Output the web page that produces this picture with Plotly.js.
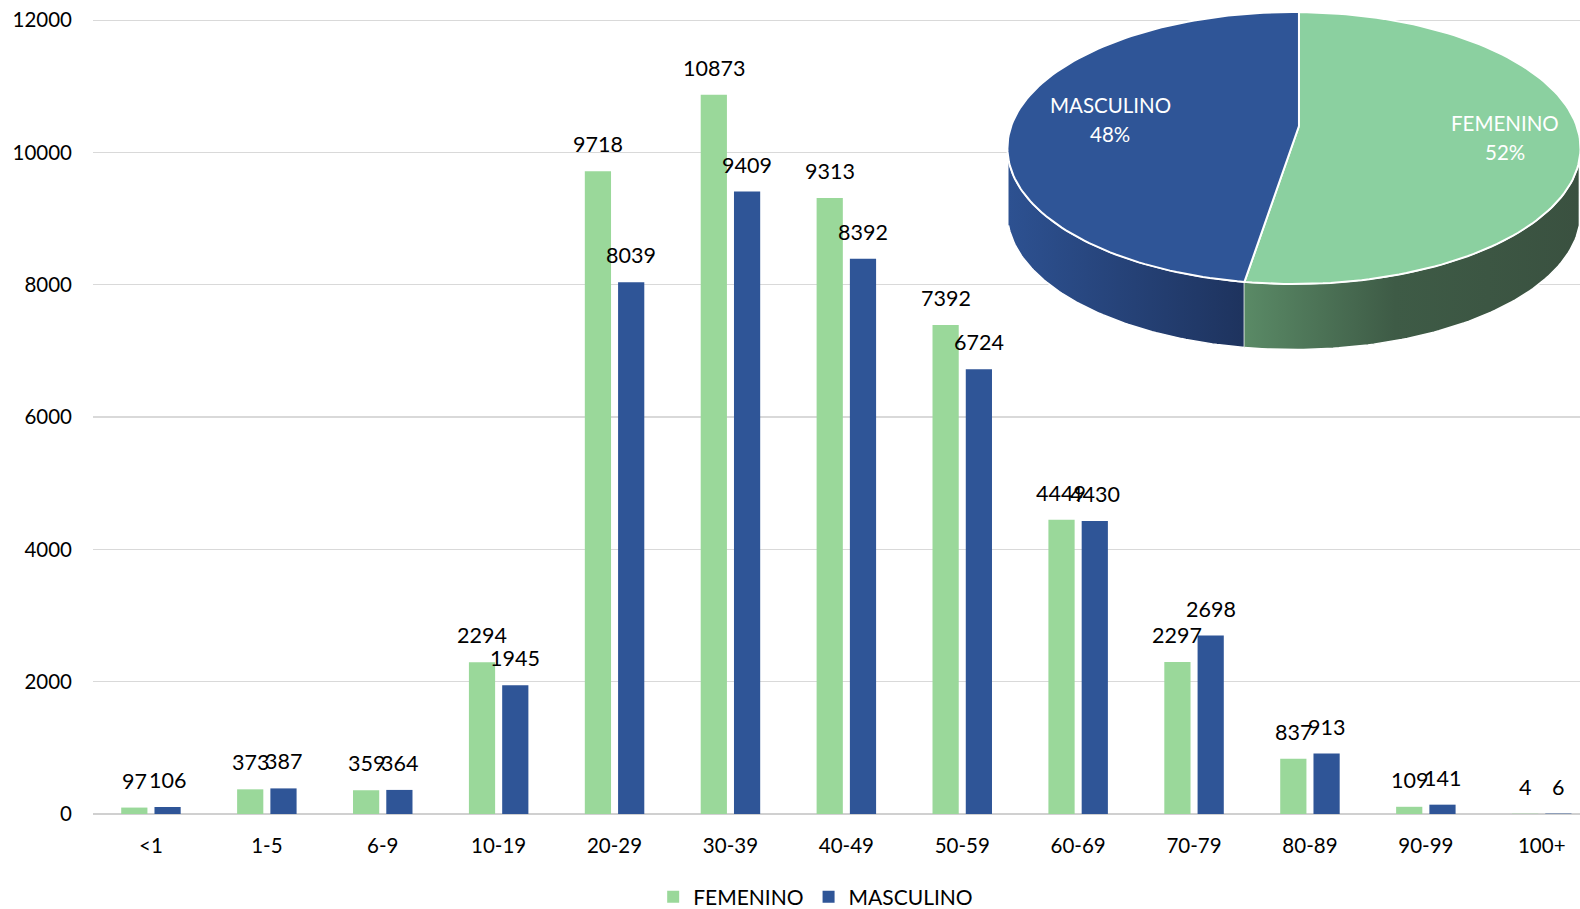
<!DOCTYPE html>
<html>
<head>
<meta charset="utf-8">
<script src="https://cdn.plot.ly/plotly-3.0.1.min.js"></script>
<style>html,body{margin:0;padding:0;background:#fff;}#chart{width:1580px;height:909px;}</style>
</head>
<body>
<div id="chart"></div>
<script>
const categories = ['<1','1-5','6-9','10-19','20-29','30-39','40-49','50-59','60-69','70-79','80-89','90-99','100+'];
const femenino  = [97,373,359,2294,9718,10873,9313,7392,4449,2297,837,109,4];
const masculino = [106,387,364,1945,8039,9409,8392,6724,4430,2698,913,141,6];
const seriesNames = ['FEMENINO','MASCULINO'];
const yTicks = [0,2000,4000,6000,8000,10000,12000];

const FONT = 'Lato, "Open Sans", sans-serif';
const barColors = ['#9ad89a', '#2f5597'];

const traces = [
  {type:'bar', name:seriesNames[0], x:categories, y:femenino, marker:{color:barColors[0]}, hoverinfo:'none'},
  {type:'bar', name:seriesNames[1], x:categories, y:masculino, marker:{color:barColors[1]}, hoverinfo:'none'}
];

// value labels
const annotations = [];
[femenino, masculino].forEach((arr, si) => {
  arr.forEach((v, i) => {
    annotations.push({x:categories[i], y:v, xref:'x', yref:'y', text:String(v), showarrow:false,
      xshift: si === 0 ? -16.7 : 16.7, yshift: 27, font:{family:FONT, size:21.5, color:'#000'}});
  });
});

// 3D-like pie built from series totals
const totF = femenino.reduce((a,b)=>a+b,0);
const totM = masculino.reduce((a,b)=>a+b,0);
const fracF = totF/(totF+totM);
const cx = 1294, cy = 148, rx = 286.5, ry = 136, depth = 65.5, apexY = 126, startDeg = 1;
const apexX = cx + rx*Math.sin(startDeg*Math.PI/180);
function ell(t0, t1, n, dy) {
  const xs = [], ys = [];
  for (let k = 0; k <= n; k++) {
    const t = (t0 + (t1 - t0) * k / n) * Math.PI / 180;
    xs.push(cx + rx * Math.sin(t));
    ys.push(cy - ry * Math.cos(t) + (dy || 0));
  }
  return [xs, ys];
}
const splitDeg = startDeg + fracF * 360;
function side(t0, t1) {
  const a = ell(t0, t1, 80, 0), b = ell(t1, t0, 80, depth);
  return [a[0].concat(b[0]), a[1].concat(b[1])];
}
const sideM = side(265, splitDeg);
const sideF = side(splitDeg, 95);
traces.push({type:'scatter', mode:'lines', x:sideM[0], y:sideM[1], xaxis:'x2', yaxis:'y2', fill:'toself',
  fillcolor:'#263f70', fillgradient:{type:'horizontal', colorscale:[[0,'#2d5191'],[1,'#1e335e']]},
  line:{color:'white', width:1.5}, showlegend:false, hoverinfo:'skip'});
traces.push({type:'scatter', mode:'lines', x:sideF[0], y:sideF[1], xaxis:'x2', yaxis:'y2', fill:'toself',
  fillcolor:'#405e48', fillgradient:{type:'horizontal', colorscale:[[0,'#5a8a66'],[0.45,'#3e5b46'],[1,'#3a5140']]},
  line:{color:'white', width:1.5}, showlegend:false, hoverinfo:'skip'});
const topF = ell(startDeg, splitDeg, 120, 0);
const topM = ell(splitDeg, 360 + startDeg, 120, 0);
traces.push({type:'scatter', mode:'lines', x:[apexX].concat(topF[0], [apexX]), y:[apexY].concat(topF[1], [apexY]),
  xaxis:'x2', yaxis:'y2', fill:'toself', fillcolor:'#8bd0a0', line:{color:'white', width:2}, showlegend:false, hoverinfo:'skip'});
traces.push({type:'scatter', mode:'lines', x:[apexX].concat(topM[0], [apexX]), y:[apexY].concat(topM[1], [apexY]),
  xaxis:'x2', yaxis:'y2', fill:'toself', fillcolor:'#2f5597', line:{color:'white', width:2}, showlegend:false, hoverinfo:'skip'});

const pctF = Math.round(fracF*100), pctM = 100 - pctF;
const pieFont = {family:FONT, size:20.5, color:'#fff'};
annotations.push({x:1110.5, y:105, xref:'x2', yref:'y2', text:seriesNames[1], showarrow:false, font:pieFont});
annotations.push({x:1110.5, y:134, xref:'x2', yref:'y2', text:pctM+'%', showarrow:false, font:pieFont});
annotations.push({x:1505.5, y:123, xref:'x2', yref:'y2', text:seriesNames[0], showarrow:false, font:pieFont});
annotations.push({x:1505.5, y:152, xref:'x2', yref:'y2', text:pctF+'%', showarrow:false, font:pieFont});

const L = 93.2, B = 95, PH = 909 - B;
const layout = {
  width:1580, height:909,
  margin:{l:L, r:0, t:0, b:B, autoexpand:false},
  paper_bgcolor:'#fff', plot_bgcolor:'rgba(0,0,0,0)',
  barmode:'group', bargap:0.426, bargroupgap:0.212,
  font:{family:FONT, size:20, color:'#000'},
  xaxis:{type:'category', range:[-0.5, 12.33], showgrid:false, zeroline:false, showline:false,
    ticks:'', ticklabelstandoff:17, tickfont:{family:FONT, size:20.5, color:'#000'}, fixedrange:true},
  yaxis:{range:[0, 12000*PH/(PH-20.2)], tickvals:yTicks, ticktext:yTicks.map(String), showgrid:true,
    gridcolor:'#d9d9d9', gridwidth:1.3, zeroline:true, zerolinecolor:'#d0d0d0', zerolinewidth:1.6,
    ticks:'', ticklabelstandoff:20, tickfont:{family:FONT, size:20.5, color:'#000'}, fixedrange:true},
  xaxis2:{domain:[(990-L)/(1580-L), 1], range:[990, 1580], visible:false, anchor:'y2', fixedrange:true},
  yaxis2:{domain:[(PH-360)/PH, 1], range:[360, 0], visible:false, anchor:'x2', fixedrange:true},
  legend:{orientation:'h', x:0.486, xanchor:'center', y:(PH-897)/PH, yanchor:'middle',
    font:{family:FONT, size:21, color:'#000'}, itemwidth:30, traceorder:'normal', tracegroupgap:0},
  annotations:annotations,
  showlegend:true
};

Plotly.newPlot('chart', traces, layout, {displayModeBar:false, staticPlot:true});
</script>
</body>
</html>
